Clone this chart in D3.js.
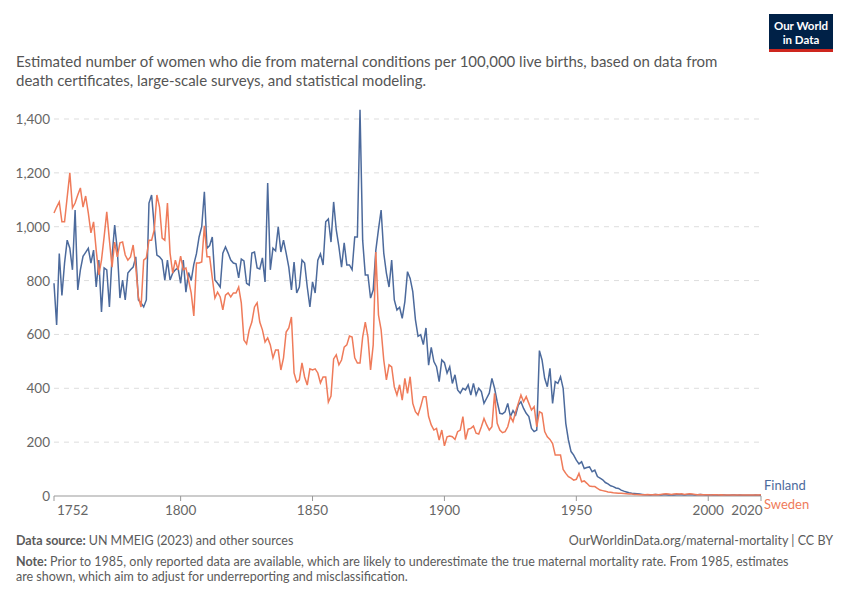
<!DOCTYPE html>
<html><head><meta charset="utf-8">
<script src="https://cdn.jsdelivr.net/npm/d3@7"></script>
<style>
body{margin:0;background:#fff;font-family:Lato,"Noto Sans",sans-serif;}
</style></head>
<body><svg id="chart" width="850" height="600"></svg>
<script>
// yearly series, Finland and Sweden, 1752-2020
var startYear = 1752;
var finland = [
790,635,900,745,865,950,920,840,1062,765, 840,890,905,920,865,913,776,876,683,847,
840,702,888,1006,913,735,802,728,828,840, 850,888,728,717,702,728,1088,1118,1000,895,
888,876,802,876,802,828,840,847,790,876, 757,830,800,860,900,962,1000,
1130,920,930,962,802,790,776,902,925,902, 876,865,862,810,880,873,790,783,902,906,
847,843,884,795,1162,840,920,910,1000,906, 950,902,850,765,869,754,776,876,865,776,
702,795,754,876,899,858,1018,1029,943,1092, 988,925,850,940,858,858,840,962,962,1434,
950,821,821,735,765,913,990,1062,902,828, 776,876,728,691,701,660,722,833,808,759,
655,593,599,562,624,486,552,499,480,425, 505,495,456,480,418,450,394,382,400,394,
413,375,418,375,400,388,344,363,382,437, 400,350,307,305,313,344,295,317,301,338,
350,325,307,295,251,239,245,540,505,437, 406,474,344,425,418,443,400,270,208,165,
152,133,119,127,102,106,108,90,96,72, 66,
60,50,45,38,35,30,28,22,18,15, 12,10,9,8,7,6,5,5,4,5,
6,5,4,5,5,4,5,4,5,6, 5,4,5,6,5,4,5,6,5,4, 5,4,5,4,3,4,4,3,3,4,
4,3,4,3,3,3,3,3,4,3, 3];
var sweden = [
1051,1073,1092,1018,1018,1110,1200,1070,1088,1118, 1144,1073,1114,1051,977,1018,913,821,876,962,
1055,950,850,943,888,940,943,895,876,888, 932,850,739,702,876,884,950,950,988,1118,
1073,958,950,1088,902,828,876,840,891,840, 847,802,754,669,865,865,869,1003,
888,888,810,735,757,739,691,746,754,739, 754,754,776,717,579,565,617,646,702,717,
646,617,572,587,561,513,542,542,468,513, 609,624,665,457,423,431,494,442,412,472,
468,472,457,420,442,442,349,371,509,524, 487,505,553,561,594,590,513,494,494,590,
646,590,468,561,906,672,617,505,431,487, 479,405,375,413,356,437,381,443,344,313,
301,332,369,369,295,264,245,251,208,245, 186,220,223,220,210,239,245,295,210,248,
251,260,233,230,257,288,264,245,257,381, 270,245,235,239,257,295,276,313,344,375,
350,369,344,319,332,257,313,307,239,220, 210,195,152,152,152,99,84,72,66,59,
62,84,53,56,47,37,35,35,28,22,
20,18,15,14,12,11,10,10,9,8, 7,7,6,6,5,5,5,6,5,5,
6,5,6,7,8,7,6,7,8,7, 8,6,7,8,7,6,5,6,5,5, 5,4,5,5,4,5,4,4,4,4,
4,4,4,4,4,4,4,4,4,4, 5];
var yTicks = [0,200,400,600,800,1000,1200,1400];
var xTicks = [1752,1800,1850,1900,1950,2000,2020];
var colors = {Finland:"#4c6a9c", Sweden:"#ef7b5a"};

var svg = d3.select("#chart");
var margin = {left:54, right:89, top:119, bottom:104};
var w = 850, h = 600;

var x = d3.scaleLinear().domain([startYear, startYear + finland.length - 1]).range([margin.left, w - margin.right]);
var y = d3.scaleLinear().domain([0,1400]).range([h - margin.bottom, margin.top]);

// logo
svg.append("rect").attr("x",769).attr("y",14).attr("width",64).attr("height",38).attr("fill","#002147");
svg.append("rect").attr("x",769).attr("y",49).attr("width",64).attr("height",3).attr("fill","#ce261e");
svg.append("text").attr("x",801).attr("y",30).attr("text-anchor","middle").attr("fill","#fff")
  .style("font-size","11.5px").style("font-weight","bold").text("Our World");
svg.append("text").attr("x",801).attr("y",44).attr("text-anchor","middle").attr("fill","#fff")
  .style("font-size","11.5px").style("font-weight","bold").text("in Data");

// subtitle
var sub = ["Estimated number of women who die from maternal conditions per 100,000 live births, based on data from",
  "death certificates, large-scale surveys, and statistical modeling."];
sub.forEach(function (s, i) {
  svg.append("text").attr("x",16).attr("y",67 + i*19).attr("fill","#555")
    .style("font-size","15px").text(s);
});

// grid + y labels
yTicks.forEach(function (t) {
  if (t > 0) {
    svg.append("line").attr("x1",margin.left).attr("x2",w - margin.right)
      .attr("y1",y(t)).attr("y2",y(t)).attr("stroke","#ddd").attr("stroke-dasharray","5,5");
  }
  svg.append("text").attr("x",50).attr("y",y(t) + 5).attr("text-anchor","end")
    .attr("fill","#666").style("font-size","13.5px").text(d3.format(",")(t));
});

svg.append("line").attr("x1",margin.left).attr("x2",w - margin.right)
  .attr("y1",y(0)).attr("y2",y(0)).attr("stroke","#999");

xTicks.forEach(function (t) {
  var px = x(t);
  var lx = px, anchor = "middle";
  if (t === startYear) { lx = px + 3; anchor = "start"; }
  if (t === 2020) { lx = px - 14; }
  svg.append("line").attr("x1",px).attr("x2",px).attr("y1",y(0)).attr("y2",y(0)+5).attr("stroke","#999");
  svg.append("text").attr("x", lx).attr("y",515).attr("text-anchor",anchor)
    .attr("fill","#666").style("font-size","13.5px").text(t);
});

var line = d3.line().x(function (d, i) { return x(startYear + i); }).y(function (d) { return y(d); });
[["Finland", finland], ["Sweden", sweden]].forEach(function (s) {
  svg.append("path").datum(s[1]).attr("d", line).attr("fill","none")
    .attr("stroke", colors[s[0]]).attr("stroke-width",1.5);
});

svg.append("text").attr("x",764).attr("y",490).attr("fill",colors.Finland).style("font-size","13px").text("Finland");
svg.append("text").attr("x",764).attr("y",509).attr("fill",colors.Sweden).style("font-size","13px").text("Sweden");

// footer
var f1 = svg.append("text").attr("x",16).attr("y",545).attr("fill","#5b5b5b").style("font-size","12.5px");
f1.append("tspan").style("font-weight","bold").text("Data source: ");
f1.append("tspan").text("UN MMEIG (2023) and other sources");
svg.append("text").attr("x",833).attr("y",545).attr("text-anchor","end").attr("fill","#5b5b5b")
  .style("font-size","12.5px").text("OurWorldinData.org/maternal-mortality | CC BY");
var f2 = svg.append("text").attr("x",16).attr("y",566).attr("fill","#5b5b5b").style("font-size","12.5px");
f2.append("tspan").style("font-weight","bold").text("Note: ");
f2.append("tspan").text("Prior to 1985, only reported data are available, which are likely to underestimate the true maternal mortality rate. From 1985, estimates");
svg.append("text").attr("x",16).attr("y",581).attr("fill","#5b5b5b").style("font-size","12.5px")
  .text("are shown, which aim to adjust for underreporting and misclassification.");
</script></body></html>
